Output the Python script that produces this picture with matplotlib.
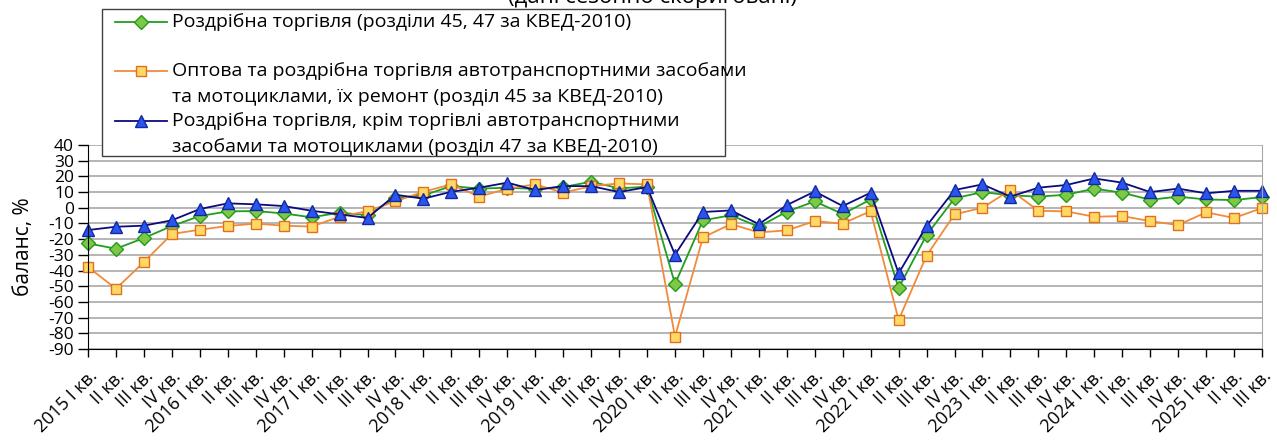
import matplotlib
matplotlib.use('Agg')
import matplotlib.pyplot as plt
from matplotlib.lines import Line2D
from matplotlib.patches import Rectangle

plt.rcParams['font.family'] = ['Open Sans', 'DejaVu Sans']
plt.rcParams['axes.unicode_minus'] = False

quarters = [
    "2015 I кв.", "II кв.", "III кв.", "IV кв.",
    "2016 I кв.", "II кв.", "III кв.", "IV кв.",
    "2017 I кв.", "II кв.", "III кв.", "IV кв.",
    "2018 I кв.", "II кв.", "III кв.", "IV кв.",
    "2019 I кв.", "II кв.", "III кв.", "IV кв.",
    "2020 I кв.", "II кв.", "III кв.", "IV кв.",
    "2021 I кв.", "II кв.", "III кв.", "IV кв.",
    "2022 I кв.", "II кв.", "III кв.", "IV кв.",
    "2023 I кв.", "II кв.", "III кв.", "IV кв.",
    "2024 I кв.", "II кв.", "III кв.", "IV кв.",
    "2025 I кв.", "II кв.", "III кв.",
]

# роздрібна торгівля (розділи 45, 47)
retail_total = [-22.7, -26.1, -19.3, -11.6, -5.3, -2.3, -2.1, -3.6, -6.1, -3.1, -4.7,
                6.2, 7.9, 13.8, 12.2, 12.8, 12.0, 13.2, 16.6, 12.4, 13.4,
                -48.6, -8.0, -4.8, -12.1, -2.5, 4.1, -4.0, 5.3,
                -51.1, -17.4, 6.0, 10.0, 7.9, 7.1, 8.3, 12.2, 9.6, 5.1, 7.1, 5.3, 4.9, 6.8]
# торгівля автотранспортом (розділ 45)
auto_trade = [-37.7, -51.6, -34.6, -16.7, -14.0, -11.6, -10.1, -11.4, -12.0, -5.7, -2.1,
              4.1, 10.2, 14.9, 7.1, 12.2, 14.9, 9.6, 13.8, 15.5, 14.9,
              -82.1, -18.9, -10.4, -15.7, -14.4, -8.5, -10.1, -2.1,
              -71.5, -30.5, -4.2, 0.0, 11.3, -1.9, -2.3, -5.7, -5.3, -8.5, -11.0, -2.9, -6.5, -0.2]
# роздрібна торгівля без автотранспорту (розділ 47)
retail_no_auto = [-14.2, -12.1, -11.4, -8.0, -0.8, 2.8, 2.2, 1.1, -1.9, -4.2, -6.5,
                  8.3, 5.8, 10.2, 12.8, 16.0, 11.3, 13.8, 13.8, 10.0, 13.2,
                  -29.9, -2.7, -1.7, -10.4, 1.7, 10.4, 1.1, 9.6,
                  -41.8, -11.6, 11.3, 14.9, 7.1, 12.8, 14.5, 18.7, 16.0, 10.0, 12.2, 9.2, 10.8, 10.8]

labels = [
    "Роздрібна торгівля (розділи 45, 47 за КВЕД-2010)",
    "Оптова та роздрібна торгівля автотранспортними засобами\nта мотоциклами, їх ремонт (розділ 45 за КВЕД-2010)",
    "Роздрібна торгівля, крім торгівлі автотранспортними\nзасобами та мотоциклами (розділ 47 за КВЕД-2010)",
]

W, H = 1277, 441
fig = plt.figure(figsize=(W / 100, H / 100), dpi=100)

def px(x, y):
    return x / W, 1 - y / H

ax = fig.add_axes([88 / W, 1 - 349 / H, (1262 - 88) / W, (349 - 145) / H])

styles = [
    dict(color='#1f9e1f', marker='D', markersize=7.5, markerfacecolor='#7dc846',
         markeredgecolor='#259a1a'),
    dict(color='#f28a3a', marker='s', markersize=7, markerfacecolor='#ffd966',
         markeredgecolor='#e0701a'),
    dict(color='#0b0b80', marker='^', markersize=9, markerfacecolor='#2a55ee',
         markeredgecolor='#1428a0'),
]
x = list(range(len(quarters)))
for vals, st in zip([retail_total, auto_trade, retail_no_auto], styles):
    ax.plot(x, vals, linewidth=1.3, markeredgewidth=1.0, clip_on=False, **st)

ax.set_xlim(0, len(quarters) - 1)
ax.set_ylim(-90, 40)
ax.set_yticks(range(-90, 41, 10))
ax.yaxis.grid(True, color='#b4b4b4', linewidth=1.4)
ax.set_axisbelow(True)
ax.set_xticks(x)
ax.set_xticklabels(quarters, rotation=45, ha='right', va='top', rotation_mode='anchor')
ax.tick_params(axis='y', direction='out', length=7, width=1, labelsize=12.5, pad=3)
ax.tick_params(axis='x', direction='out', length=6, width=1, labelsize=13, pad=7)
ax.spines['top'].set_visible(False)
ax.spines['right'].set_color('#a6a6a6')
ax.spines['left'].set_color('black')
ax.spines['bottom'].set_color('black')
ax.set_ylabel("баланс, %", fontsize=15, labelpad=10)

# заголовок (обрізаний зверху)
fig.text(*px(652, 3), "(дані сезонно скориговані)", fontsize=16,
         ha='center', va='baseline')

# легенда
x0, y0, x1, y1 = 102, 9, 725, 156
fig.patches.append(Rectangle(px(x0, y1), (x1 - x0) / W, (y1 - y0) / H,
                             transform=fig.transFigure, facecolor='white',
                             edgecolor='#404040', linewidth=1.0, zorder=5))
entry_y = [22, 71, 121]
for ey, st, lab in zip(entry_y, styles, labels):
    fig.lines.append(Line2D([115 / W, 167 / W], [1 - ey / H, 1 - ey / H],
                            transform=fig.transFigure, linewidth=1.3,
                            color=st['color'], zorder=6))
    fig.lines.append(Line2D([141 / W], [1 - ey / H], transform=fig.transFigure,
                            linestyle='none', marker=st['marker'],
                            markersize=st['markersize'],
                            markerfacecolor=st['markerfacecolor'],
                            markeredgecolor=st['markeredgecolor'], zorder=7))
    for i, line in enumerate(lab.split("\n")):
        fig.text(*px(172, ey + 25.5 * i), line, fontsize=14, ha='left',
                 va='center', zorder=8)

fig.savefig('out.png', dpi=100)
